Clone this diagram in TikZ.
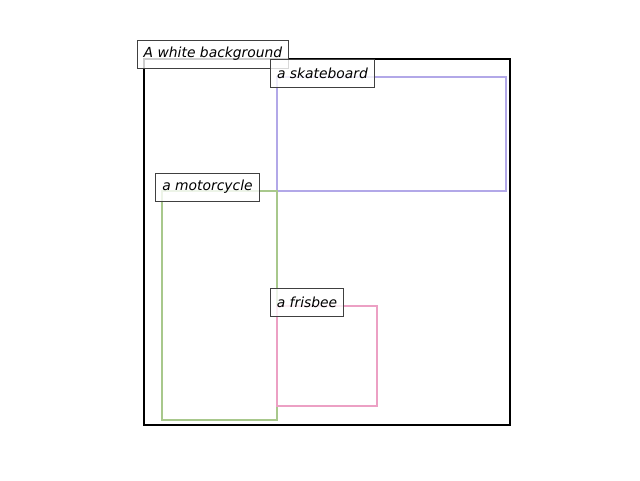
\documentclass[tikz,border=0pt]{standalone}
\usepackage{fontspec}
\setmainfont{DejaVu Sans}
\definecolor{skate}{RGB}{178,168,232}
\definecolor{moto}{RGB}{168,200,140}
\definecolor{fris}{RGB}{236,160,196}
\begin{document}
\begin{tikzpicture}[x=0.75pt,y=-0.75pt,
  region/.style={line width=1.5pt},
  lbl/.style={draw=black!75,fill=white,fill opacity=0.8,text opacity=1,line width=0.75pt,
    inner xsep=5pt,inner ysep=0pt,minimum height=21pt,font=\fontsize{10.4}{12}\selectfont\itshape,anchor=center}]
\useasboundingbox (0,0) rectangle (640,480);
\draw[region,black] (144,59) rectangle (510,425);
\draw[region,skate] (277,77) rectangle (506,191);
\draw[region,moto] (162,191) rectangle (277,420);
\draw[region,fris] (277,306) rectangle (377,406);
\node[lbl] (bg) at (213,54) {A white background};
\node[lbl] (sk) at (322.5,73) {a skateboard};
\node[lbl] (mo) at (207.5,187) {a motorcycle};
\node[lbl] (fr) at (307,302) {a frisbee};
\end{tikzpicture}
\end{document}
